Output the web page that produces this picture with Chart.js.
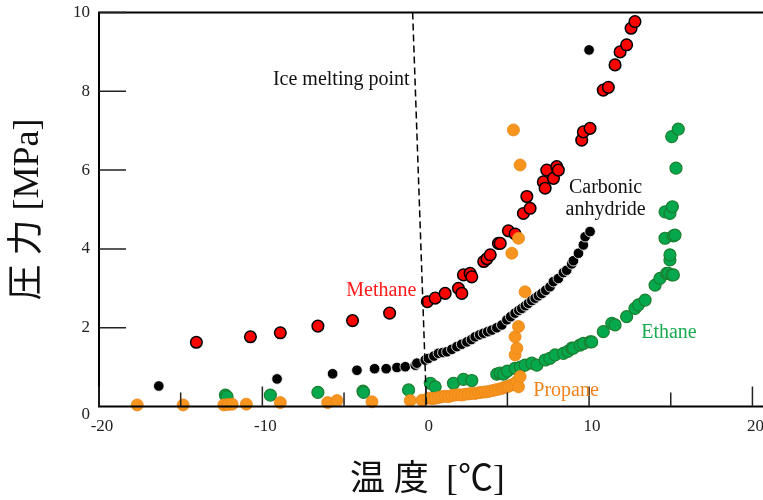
<!DOCTYPE html>
<html lang="ja">
<head>
<meta charset="UTF-8">
<title>温度と圧力</title>
<script src="https://cdn.jsdelivr.net/npm/chart.js"></script>
<style>
  html, body { margin: 0; padding: 0; background: #fff; }
  #wrap { width: 763px; height: 500px; }
</style>
</head>
<body>
<div id="wrap"><canvas id="hydrateChart" width="763" height="500"></canvas></div>
<script>
  // 読み取り値 (温度 ℃, 圧力 MPa)
  const methaneX = [-14.04, -10.73, -8.9, -6.6, -4.48, -2.21, 0.1, 0.58, 1.19, 2.0, 2.21, 2.31, 2.72, 2.82, 3.55, 3.75, 3.95, 4.45, 4.56, 5.06, 5.47, 5.98, 6.19, 6.39, 7.2, 7.31, 7.41, 7.82, 8.02, 8.12, 9.55, 9.65, 10.06, 10.87, 11.18, 11.59, 11.9, 12.3, 12.57, 12.81];
  const methaneY = [1.63, 1.77, 1.87, 2.04, 2.18, 2.37, 2.66, 2.75, 2.87, 3.0, 2.87, 3.34, 3.38, 3.29, 3.68, 3.75, 3.85, 4.14, 4.14, 4.46, 4.38, 4.9, 5.33, 5.03, 5.7, 5.54, 6.0, 5.79, 6.09, 6.0, 6.76, 6.97, 7.06, 8.03, 8.1, 8.67, 9.0, 9.18, 9.6, 9.77];

  const co2X = [-16.34, -9.1, -5.7, -4.21, -3.13, -2.42, -1.76, -1.25, -0.64, -0.54, -0.03, 0.17, 0.5, 0.78, 1.05, 1.3, 1.6, 1.91, 2.2, 2.52, 2.8, 3.03, 3.3, 3.54, 3.8, 4.05, 4.35, 4.66, 4.97, 5.2, 5.47, 5.7, 5.88, 6.1, 6.29, 6.5, 6.7, 6.9, 7.11, 7.35, 7.61, 7.82, 8.12, 8.43, 8.63, 8.94, 9.04, 9.35, 9.65, 9.76, 10.06, 10.0];
  const co2Y = [0.52, 0.70, 0.83, 0.92, 0.96, 0.96, 0.99, 1.01, 1.05, 1.1, 1.18, 1.22, 1.28, 1.35, 1.37, 1.39, 1.45, 1.52, 1.58, 1.64, 1.7, 1.77, 1.82, 1.86, 1.9, 1.94, 2.0, 2.07, 2.2, 2.28, 2.37, 2.44, 2.49, 2.56, 2.62, 2.69, 2.75, 2.81, 2.87, 2.95, 3.04, 3.17, 3.25, 3.4, 3.46, 3.62, 3.7, 3.89, 4.1, 4.31, 4.44, 9.05];

  const ethaneX = [-12.26, -12.16, -9.51, -6.6, -3.84, -3.8, -1.05, 0.28, 0.58, 1.7, 2.31, 2.82, 4.35, 4.55, 4.76, 5.0, 5.47, 5.8, 6.08, 6.49, 6.8, 7.31, 7.6, 7.92, 8.43, 8.7, 8.94, 9.04, 9.45, 9.65, 10.06, 10.16, 10.87, 11.39, 11.59, 12.3, 12.81, 13.02, 13.43, 14.04, 14.34, 14.75, 14.85, 15.06, 15.16, 14.95, 14.95, 14.65, 15.16, 15.26, 14.65, 14.95, 15.1, 15.32, 15.06, 15.46];
  const ethaneY = [0.29, 0.25, 0.29, 0.36, 0.39, 0.36, 0.42, 0.59, 0.5, 0.59, 0.69, 0.66, 0.82, 0.85, 0.82, 0.9, 0.97, 1.0, 1.05, 1.1, 1.05, 1.18, 1.22, 1.31, 1.35, 1.4, 1.48, 1.48, 1.56, 1.6, 1.64, 1.64, 1.9, 2.11, 2.07, 2.28, 2.49, 2.58, 2.7, 3.08, 3.25, 3.38, 3.38, 3.34, 3.34, 3.72, 3.85, 4.27, 4.33, 4.35, 4.94, 4.9, 5.07, 6.05, 6.85, 7.04];

  const propaneX = [-17.66, -14.85, -12.36, -12.1, -11.85, -10.98, -8.9, -6.0, -5.43, -3.29, -0.95, -0.23, 0.17, 0.4, 0.58, 0.8, 0.99, 1.2, 1.4, 1.6, 1.8, 2.0, 2.21, 2.4, 2.62, 2.8, 3.03, 3.25, 3.44, 3.65, 3.84, 4.05, 4.25, 4.45, 4.66, 4.8, 4.97, 5.1, 5.27, 5.45, 5.58, 5.68, 5.78, 5.47, 5.58, 5.47, 5.68, 6.08, 5.27, 5.68, 5.37, 5.78];
  const propaneY = [0.04, 0.04, 0.04, 0.05, 0.06, 0.06, 0.1, 0.1, 0.15, 0.12, 0.15, 0.16, 0.21, 0.2, 0.21, 0.23, 0.25, 0.26, 0.25, 0.28, 0.29, 0.3, 0.29, 0.31, 0.32, 0.33, 0.33, 0.35, 0.36, 0.37, 0.38, 0.4, 0.42, 0.44, 0.46, 0.48, 0.5, 0.52, 0.55, 0.58, 0.63, 0.5, 0.76, 1.31, 1.48, 1.77, 2.03, 2.91, 3.89, 4.27, 7.02, 6.13];

  const iceX = [-0.8, 0.05];
  const iceY = [10, 0];

  const xTicks = [-20, -10, 0, 10, 20];
  const xMinorTicks = [-15, -5, 5, 15];
  const yTicks = [0, 2, 4, 6, 8, 10];

  const noteTexts = ['Ice melting point', 'Methane', 'Carbonic', 'anhydride', 'Ethane', 'Propane'];
  const noteX = [-5.17, -2.72, 11.01, 11.01, 14.89, 8.59];
  const noteY = [8.16, 2.80, 5.41, 4.86, 1.74, 0.27];
  const noteColors = ['#111', '#ff1a1a', '#111', '#111', '#1aaa50', '#f0821e'];

  const serif = 'Liberation Serif';
  const titleFont = '"Liberation Serif", "Noto Sans CJK JP"';
  const pts = (xs, ys) => xs.map((x, i) => ({ x, y: ys[i] }));

  // 枠線・内向き目盛・注記
  const framePlugin = {
    id: 'frame',
    afterDraw(chart) {
      const { ctx, chartArea: a, scales: { x, y } } = chart;
      ctx.save();
      ctx.strokeStyle = '#000';
      ctx.lineWidth = 2;
      ctx.beginPath();
      ctx.moveTo(chart.width, a.top);
      ctx.lineTo(a.left, a.top);
      ctx.lineTo(a.left, a.bottom);
      ctx.lineTo(chart.width, a.bottom);
      ctx.stroke();

      ctx.strokeStyle = '#222';
      ctx.lineWidth = 1.5;
      ctx.beginPath();
      yTicks.slice(1).forEach(v => {
        const py = y.getPixelForValue(v);
        ctx.moveTo(a.left, py);
        ctx.lineTo(a.left + 27, py);
      });
      xTicks.forEach(v => {
        const px = x.getPixelForValue(v);
        ctx.moveTo(px, a.bottom);
        ctx.lineTo(px, a.bottom - 20);
      });
      xMinorTicks.forEach(v => {
        const px = x.getPixelForValue(v);
        ctx.moveTo(px, a.bottom);
        ctx.lineTo(px, a.bottom - 14);
      });
      ctx.stroke();

      ctx.font = '20px "Liberation Serif"';
      ctx.textAlign = 'center';
      ctx.textBaseline = 'alphabetic';
      noteTexts.forEach((t, i) => {
        ctx.fillStyle = noteColors[i];
        ctx.fillText(t, x.getPixelForValue(noteX[i]), y.getPixelForValue(noteY[i]));
      });
      ctx.restore();
    }
  };

  const ctx = document.getElementById('hydrateChart').getContext('2d');
  new Chart(ctx, {
    type: 'scatter',
    data: {
      datasets: [
        {
          label: 'Ice melting point',
          data: pts(iceX, iceY),
          showLine: true,
          borderColor: '#000',
          borderWidth: 1.5,
          borderDash: [7, 4],
          pointRadius: 0,
          clip: false
        },
        {
          label: 'Propane',
          data: pts(propaneX, propaneY),
          backgroundColor: '#f7941d',
          borderColor: '#ea8716',
          borderWidth: 0.8,
          pointRadius: 6,
          clip: false
        },
        {
          label: 'Ethane',
          data: pts(ethaneX, ethaneY),
          backgroundColor: '#05a84c',
          borderColor: '#1b7f30',
          borderWidth: 1.2,
          pointRadius: 6,
          clip: false
        },
        {
          label: 'Methane',
          data: pts(methaneX, methaneY),
          backgroundColor: '#ff0000',
          borderColor: '#000',
          borderWidth: 1.5,
          pointRadius: 5.8,
          clip: false
        },
        {
          label: 'Carbonic anhydride',
          data: pts(co2X, co2Y),
          backgroundColor: '#000',
          borderColor: '#fff',
          borderWidth: 0.8,
          pointRadius: 5.3,
          clip: false
        }
      ]
    },
    options: {
      responsive: false,
      animation: false,
      events: [],
      layout: { padding: { top: 12.5, right: 0, bottom: 0, left: 0 } },
      plugins: {
        legend: { display: false },
        tooltip: { enabled: false }
      },
      scales: {
        x: {
          type: 'linear',
          min: -20,
          max: 20.2,
          afterBuildTicks: s => { s.ticks = xTicks.map(v => ({ value: v })); },
          afterFit: s => {
            s.height = 93.5;
            s.paddingLeft = 0;
            s.paddingRight = 0;
          },
          grid: { display: false, drawTicks: false },
          border: { display: false },
          ticks: {
            font: { family: serif, size: 17 },
            color: '#222',
            padding: 10,
            labelOffset: 3,
            maxRotation: 0,
            autoSkip: false
          },
          title: {
            display: true,
            text: '温 度  [℃]',
            font: { family: titleFont, size: 35, lineHeight: 1.1 },
            color: '#111',
            padding: { top: 0, bottom: 0 }
          }
        },
        y: {
          min: 0,
          max: 10,
          afterBuildTicks: s => { s.ticks = yTicks.map(v => ({ value: v })); },
          afterFit: s => {
            s.width = 99;
            s.paddingTop = 0;
            s.paddingBottom = 0;
          },
          grid: { display: false, drawTicks: false },
          border: { display: false },
          ticks: {
            font: { family: serif, size: 17, lineHeight: 1 },
            color: '#222',
            padding: 9,
            callback: v => v === 0 ? ['', '0'] : String(v)
          },
          title: {
            display: true,
            text: '圧 力 [MPa]',
            font: { family: titleFont, size: 36 },
            color: '#111',
            padding: { top: 7, bottom: 0 }
          }
        }
      }
    },
    plugins: [framePlugin]
  });
</script>
</body>
</html>
